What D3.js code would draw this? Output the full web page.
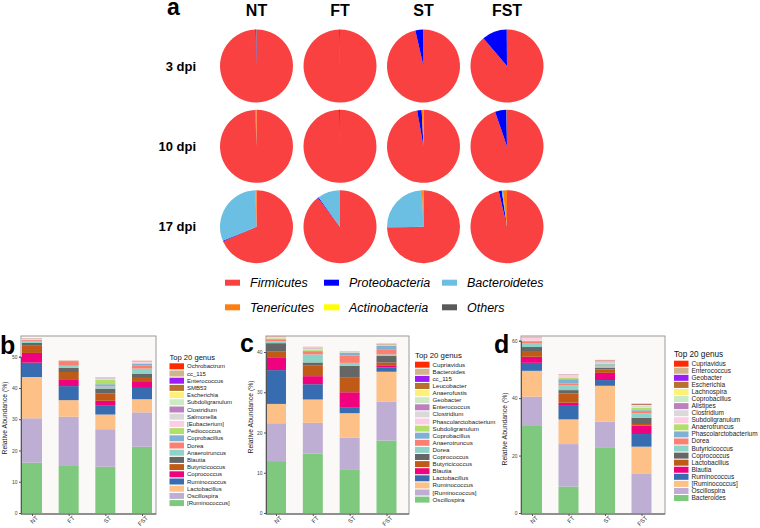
<!DOCTYPE html>
<html><head><meta charset="utf-8">
<script src="https://cdn.jsdelivr.net/npm/d3@7"></script>
<style>body{margin:0;background:#fff;} svg{display:block;font-family:"Liberation Sans",Arial,sans-serif;}</style>
</head><body><svg id="chart" width="760" height="528"></svg>
<script>
// ---------- Panel a: pies ----------
const pieGroups = ["NT","FT","ST","FST"];
const pieTimes = ["3 dpi","10 dpi","17 dpi"];
const phyla = ["Firmicutes","Proteobacteria","Bacteroidetes","Tenericutes","Actinobacteria","Others"];
const phylaColors = ["#f94141","#0000ff","#6bbfe2","#ff7f0e","#ffff00","#5a5a5a"];
// per group: Firmicutes, Proteobacteria, Bacteroidetes, Tenericutes, Actinobacteria, Others (%)
const pie3dpi  = [[99.5,0.3,0,0,0,0.2],[99.6,0.3,0,0,0,0.1],[96.4,3.5,0,0,0,0.1],[88.8,11.1,0,0,0,0.1]];
const pie10dpi = [[99.3,0.2,0,0.5,0,0],[99.7,0.3,0,0,0,0],[97.2,2.0,0,0.8,0,0],[94.7,5.0,0,0.1,0,0.2]];
const pie17dpi = [[68.4,0.3,30.8,0.5,0,0],[89.6,0.4,10.0,0,0,0],[74.4,0.3,24.6,0.7,0,0],[96.4,1.3,0.5,1.8,0,0]];

// ---------- Panels b, c, d: stacked bars ----------
const barSamples = ["NT","FT","ST","FST"];
const genusColors = ["#ff2a00","#d2b48c","#9b1cf5","#b8702f","#fff176","#ccebc5","#bc80bd","#d9d9d9","#fccde5","#b3de69",
                     "#80b1d3","#fb8072","#8dd3c7","#666666","#bf5b17","#f0027f","#386cb0","#fdc086","#beaed4","#7fc97f"];
// legend order (top -> bottom); values aligned with it
const bGenera = ["Ochrobactrum","cc_115","Enterococcus","SMB53","Escherichia","Subdoligranulum","Clostridium","Salmonella","[Eubacterium]","Pediococcus",
                 "Coprobacillus","Dorea","Anaerotruncus","Blautia","Butyricicoccus","Coprococcus","Ruminococcus","Lactobacillus","Oscillospira","[Ruminococcus]"];
const bNT  = [0.02,0.02,0.02,0.03,0.05,0.05,0.05,0.05,0.25,0.05,0.1,0.35,0.55,0.9,2.3,3.1,4.6,13.2,14.2,16.1];
const bFT  = [0.01,0.01,0.01,0.01,0.02,0.02,0.02,0.03,0.05,0.03,0.05,1.5,0.7,1.3,2.3,2.2,4.5,5.3,15.5,15.3];
const bST  = [0.02,0.02,0.02,0.02,0.05,0.1,0.1,0.2,0.3,1.4,0.7,0.1,0.6,1.6,2.3,1.6,2.8,4.7,12.0,14.8];
const bFST = [0.05,0.03,0.02,0.05,0.02,0.05,0.05,0.2,0.3,0.1,0.7,0.9,1.6,1.4,1.3,1.9,3.6,4.2,11.0,21.2];
const bTicks = [0,10,20,30,40,50];

const cGenera = ["Cupriavidus","Bacteroides","cc_115","Leucobacter","Anaerofustis","Geobacter","Enterococcus","Clostridium","Phascolarctobacterium","Subdoligranulum",
                 "Coprobacillus","Anaerotruncus","Dorea","Coprococcus","Butyricicoccus","Blautia","Lactobacillus","Ruminococcus","[Ruminococcus]","Oscillospira"];
const cNT  = [0.02,0.02,0.02,0.02,0.1,0.05,0.05,0.05,0.1,0.2,0.2,0.3,0.5,2.0,1.5,3.2,8.4,4.8,9.4,12.9];
const cFT  = [0.02,0.02,0.02,0.02,0.1,0.1,0.1,0.1,0.3,0.2,0.1,0.8,2.0,0.8,2.6,2.0,3.8,5.8,7.6,14.8];
const cST  = [0.02,0.02,0.02,0.02,0.03,0.03,0.03,0.03,0.05,0.05,0.7,1.8,0.7,3.0,3.6,3.7,1.5,6.1,8.0,10.7];
const cFST = [0.05,0.2,0.02,0.05,0.02,0.03,0.05,0.03,0.05,0.05,0.8,1.3,0.4,1.6,0.7,0.5,1.1,7.4,9.7,18.0];
const cTicks = [0,10,20,30,40];

const dGenera = ["Cupriavidus","Enterococcus","Geobacter","Escherichia","Lachnospira","Coprobacillus","Alistipes","Clostridium","Subdoligranulum","Anaerotruncus",
                 "Phascolarctobacterium","Dorea","Butyricicoccus","Coprococcus","Lactobacillus","Blautia","Ruminococcus","[Ruminococcus]","Oscillospira","Bacteroides"];
const dNT  = [0.02,0.02,0.02,0.05,0.03,0.03,0.05,0.1,1.0,0.1,0.1,0.6,1.4,1.7,1.7,2.1,2.8,9.0,10.2,30.3];
const dFT  = [0.02,0.02,0.02,0.02,0.02,0.05,0.05,0.1,1.1,0.4,1.5,0.6,1.7,1.2,3.2,0.8,5.0,8.6,14.8,9.2];
const dST  = [0.05,0.05,0.05,0.1,0.15,0.1,0.3,0.2,0.2,0.3,0.4,0.3,0.6,0.5,1.2,2.5,2.0,12.5,8.9,22.9];
const dFST = [0.05,0.05,0.05,0.3,0.2,0.3,0.1,0.2,0.2,0.8,0.3,0.8,1.5,2.2,0.6,2.9,4.4,9.3,13.8,0];
const dTicks = [0,20,40,60];

const svg = d3.select("#chart");

// ---- Panel a ----
const pieX = d3.scalePoint().domain(pieGroups).range([256.5, 507]);
const pieY = d3.scalePoint().domain(pieTimes).range([66, 226.7]);
const pieR = 36.5;
const pieData = [pie3dpi, pie10dpi, pie17dpi];
const pie = d3.pie().sort(null).value(d => d.v).startAngle(0).endAngle(2*Math.PI);
const arc = d3.arc().innerRadius(0).outerRadius(pieR);

svg.append("text").attr("x",167).attr("y",15).attr("font-size",23).attr("font-weight","bold").text("a");
pieGroups.forEach(g => {
  svg.append("text").attr("x",pieX(g)).attr("y",15.5).attr("text-anchor","middle")
    .attr("font-size",16).attr("font-weight","bold").text(g);
});
pieTimes.forEach((t,ti) => {
  svg.append("text").attr("x",196).attr("y",pieY(t)+4.5).attr("text-anchor","end")
    .attr("font-size",13).attr("font-weight","bold").text(t);
  pieGroups.forEach((g,gi) => {
    const vals = pieData[ti][gi].map((v,k) => ({k: phyla[k], v}));
    const gg = svg.append("g").attr("transform",`translate(${pieX(g)},${pieY(t)})`);
    gg.selectAll("path").data(pie(vals).filter(d => d.data.v > 0)).join("path")
      .attr("d", arc).attr("fill", d => phylaColors[phyla.indexOf(d.data.k)]);
  });
});
// pie legend
const legSwX = [225, 324, 442], legTxX = [250, 349, 467], legRowY = [282.7, 307.3];
phyla.forEach((p,i) => {
  const col = i % 3, row = Math.floor(i/3);
  svg.append("rect").attr("x",legSwX[col]).attr("y",legRowY[row]-3).attr("width",15).attr("height",6)
    .attr("fill",phylaColors[i]);
  svg.append("text").attr("x",legTxX[col]).attr("y",legRowY[row]+4.4).attr("font-size",12.5)
    .attr("font-style","italic").text(p);
});

// ---- Bar panels ----
function drawPanel(cfg) {
  const {letter, letterX, letterY, genera, values, ticks, yDomMax, yTopPx, frameX0, frameX1, xFirst, xLast,
         titleX, titleY, legX, legTitleY, legTitleSize, legY0, legStep, legFont} = cfg;
  const frameY0 = 336, frameY1 = 514, zeroY = 513;
  const x = d3.scalePoint().domain(barSamples).range([xFirst, xLast]);
  const y = d3.scaleLinear().domain([0, yDomMax]).range([zeroY, yTopPx]);
  const g = svg.append("g");
  g.append("rect").attr("x",frameX0).attr("y",frameY0).attr("width",frameX1-frameX0).attr("height",frameY1-frameY0)
    .attr("fill","#fbf9f7").attr("stroke","#9a9a9a").attr("stroke-width",1);
  const rows = barSamples.map((s,i) => {
    const o = {sample: s};
    genera.forEach((gn,j) => o[gn] = values[i][j]);
    return o;
  });
  const keys = genera.slice().reverse();
  const series = d3.stack().keys(keys)(rows);
  const bw = 20;
  series.forEach(ser => {
    const col = genusColors[genera.indexOf(ser.key)];
    g.selectAll(null).data(ser).join("rect")
      .attr("x", d => x(d.data.sample) - bw/2).attr("width", bw)
      .attr("y", d => y(d[1])).attr("height", d => Math.max(0, y(d[0]) - y(d[1])))
      .attr("fill", col);
  });
  // axes
  const ya = g.append("g").attr("transform",`translate(${frameX0},0)`)
    .call(d3.axisLeft(y).tickValues(ticks).tickSize(2).tickPadding(1.5));
  ya.select(".domain").attr("stroke","#555");
  ya.selectAll("line").attr("stroke","#555");
  ya.selectAll("text").attr("font-size",5).attr("fill","#444").attr("font-family","Liberation Sans, Arial, sans-serif");
  const xa = g.append("g").attr("transform",`translate(0,${frameY1})`)
    .call(d3.axisBottom(x).tickSize(2).tickPadding(2));
  xa.select(".domain").attr("stroke","#555").attr("d", `M${frameX0},0H${frameX1}`);
  xa.selectAll("line").attr("stroke","#555");
  xa.selectAll("text").attr("font-size",6).attr("fill","#333").attr("text-anchor","end")
    .attr("font-family","Liberation Sans, Arial, sans-serif")
    .attr("dy",0).attr("transform","translate(3,1.5) rotate(-45)");
  // y title
  g.append("text").attr("transform",`translate(${titleX},${titleY}) rotate(-90)`).attr("text-anchor","middle")
    .attr("font-size",6.8).attr("fill","#222").text("Relative Abundance (%)");
  // letter
  g.append("text").attr("x",letterX).attr("y",letterY).attr("font-size",25).attr("font-weight","bold").text(letter);
  // legend
  g.append("text").attr("x",legX).attr("y",legTitleY).attr("font-size",legTitleSize).attr("fill","#111").text("Top 20 genus");
  genera.forEach((gn,j) => {
    const yy = legY0 + j*legStep;
    g.append("rect").attr("x",legX).attr("y",yy).attr("width",14.5).attr("height",6).attr("fill",genusColors[j]);
    g.append("text").attr("x",legX+17.5).attr("y",yy+5).attr("font-size",legFont).attr("fill","#222").text(gn);
  });
}

drawPanel({letter:"b", letterX:0, letterY:354, genera:bGenera, values:[bNT,bFT,bST,bFST], ticks:bTicks,
  yDomMax:50, yTopPx:356.7, frameX0:21, frameX1:156, xFirst:32, xLast:142, titleX:7, titleY:418,
  legX:169.5, legTitleY:359.5, legTitleSize:7.6, legY0:363.3, legStep:7.2, legFont:6});
drawPanel({letter:"c", letterX:240, letterY:352, genera:cGenera, values:[cNT,cFT,cST,cFST], ticks:cTicks,
  yDomMax:40, yTopPx:352, frameX0:266, frameX1:409, xFirst:276, xLast:386.5, titleX:253, titleY:417,
  legX:415, legTitleY:357.5, legTitleSize:7.8, legY0:361.7, legStep:7.1, legFont:6.2});
drawPanel({letter:"d", letterX:494, letterY:353, genera:dGenera, values:[dNT,dFT,dST,dFST], ticks:dTicks,
  yDomMax:60, yTopPx:340.7, frameX0:521, frameX1:665, xFirst:532, xLast:641.5, titleX:506.5, titleY:429,
  legX:674, legTitleY:357, legTitleSize:8.2, legY0:360.7, legStep:7.07, legFont:6.5});
</script></body></html>
